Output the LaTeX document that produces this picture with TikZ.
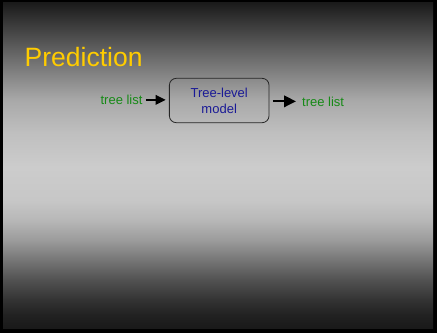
\documentclass[tikz,border=0pt]{standalone}
\usepackage{fontspec}
\setmainfont{Liberation Sans}
\usetikzlibrary{arrows.meta}
\definecolor{TitleGold}{HTML}{FFCC00}
\definecolor{DataGreen}{HTML}{168A16}
\definecolor{ModelNavy}{HTML}{1A1A96}
% slide background, dark at top and bottom, light a little above the middle
\pgfdeclareverticalshading{slideback}{100bp}{
    color(0bp)=(black!90); color(25bp)=(black!90);
    color(27bp)=(black!87); color(29.3bp)=(black!80);
    color(32.4bp)=(black!68); color(35.4bp)=(black!54);
    color(38.5bp)=(black!39); color(41.6bp)=(black!28);
    color(44.6bp)=(black!22); color(49.7bp)=(black!20);
    color(54.9bp)=(black!25); color(60bp)=(black!34);
    color(67.6bp)=(black!62); color(75bp)=(black!90);
    color(100bp)=(black!90)
}
\tikzset{
    data label/.style={
        text=DataGreen, inner sep=0pt, anchor=base,
        font=\fontsize{13}{16}\selectfont
    },
    model box/.style={
        draw=black!85, line width=0.8pt, rounded corners=7pt,
        minimum width=99.7pt, minimum height=44.4pt,
        align=center, text=ModelNavy,
        font=\fontsize{13}{16}\selectfont
    },
    flow/.style={
        -{Triangle[length=10pt, width=9.5pt]}, line width=2pt
    },
    big flow/.style={
        -{Triangle[length=12pt, width=11.5pt]}, line width=2pt
    }
}

\begin{document}
\begin{tikzpicture}[x=1pt, y=-1pt]

\useasboundingbox (0,0) rectangle (437,333);

% frame and background
\fill[black] (0,0) rectangle (437,333);
\shade[shading=slideback] (3,2) rectangle (433,328);

\node[text=TitleGold, inner sep=0pt, anchor=base west,
      font=\fontsize{26.5}{30}\selectfont] (title) at (24.5,66.7) {Prediction};

\node[model box] (model) at (219.2,100.5) {Tree-level\\model};
\node[data label, anchor=base east] (inList) at (142.7,104.5) {tree list};
\node[data label, anchor=base west] (outList) at (302,106) {tree list};

\draw[flow, shorten <=3.5pt, shorten >=3.3pt]
    (inList.east) -- (inList.east -| model.west);
\draw[big flow, shorten <=3.3pt, shorten >=6pt]
    (model.east |- outList.west) -- (outList.west);

\end{tikzpicture}
\end{document}
